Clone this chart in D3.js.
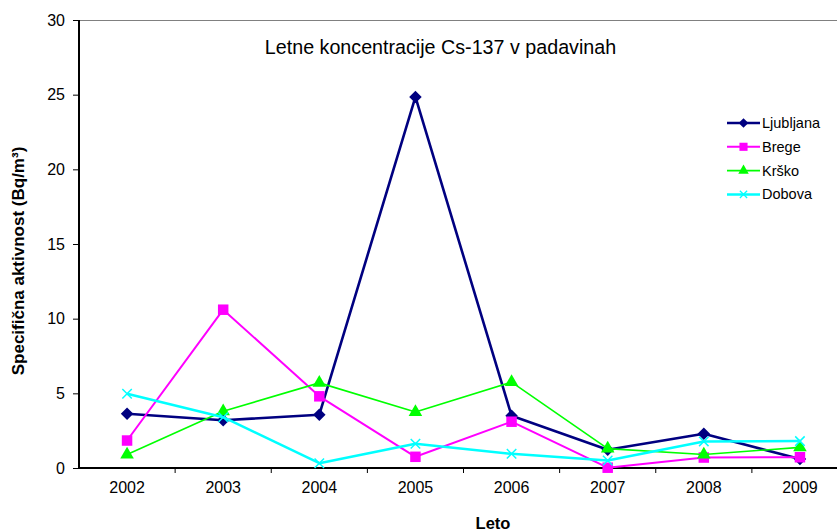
<!DOCTYPE html>
<html>
<head>
<meta charset="utf-8">
<script src="https://cdn.jsdelivr.net/npm/d3@7"></script>
<style>
  body { margin: 0; background: #fff; }
  svg { display: block; font-family: "Liberation Sans", Arial, sans-serif; }
</style>
</head>
<body>
<svg width="837" height="531"></svg>
<script>
const years = ["2002", "2003", "2004", "2005", "2006", "2007", "2008", "2009"];
const ljubljana = [3.63, 3.2, 3.57, 24.85, 3.5, 1.22, 2.29, 0.6];
const brege = [1.84, 10.6, 4.8, 0.75, 3.1, 0.02, 0.7, 0.72];
const krsko = [0.9, 3.8, 5.7, 3.75, 5.75, 1.3, 0.9, 1.38];
const dobova = [4.97, 3.4, 0.32, 1.62, 0.95, 0.5, 1.78, 1.8];
const seriesNames = ["Ljubljana", "Brege", "Krško", "Dobova"];
const yTicks = [0, 5, 10, 15, 20, 25, 30];

const series = [
  { name: seriesNames[0], values: ljubljana, color: "#000080", width: 2.6, symbol: d3.symbolDiamond2, size: 100 },
  { name: seriesNames[1], values: brege, color: "#ff00ff", width: 2, symbol: d3.symbolSquare, size: 110 },
  { name: seriesNames[2], values: krsko, color: "#00ff00", width: 1.6, symbol: d3.symbolTriangle, size: 80 },
  { name: seriesNames[3], values: dobova, color: "#00ffff", width: 2.5, symbol: d3.symbolX, size: 60 }
];

const svg = d3.select("svg");
const margin = { left: 79, top: 20, right: 848, bottom: 468 };

const x = d3.scaleBand().domain(years).range([margin.left, margin.right]).padding(0);
const y = d3.scaleLinear().domain([0, 30]).range([margin.bottom, margin.top]);
const cx = d => x(d) + x.bandwidth() / 2;

// top border of plot area
svg.append("line")
  .attr("x1", margin.left).attr("x2", margin.right)
  .attr("y1", margin.top + 0.5).attr("y2", margin.top + 0.5)
  .attr("stroke", "#808080").attr("stroke-width", 1);

// y axis
const yAxisG = svg.append("g")
  .attr("transform", `translate(${margin.left},0)`)
  .call(d3.axisLeft(y).tickValues(yTicks).tickSize(6).tickPadding(8));
yAxisG.select(".domain").attr("stroke", "#000").attr("stroke-width", 2)
  .attr("d", `M0,${margin.top}V${margin.bottom}`);
yAxisG.selectAll(".tick line").attr("stroke-width", 1);
yAxisG.selectAll(".tick text").style("font-size", "16px").attr("fill", "#000");

// x axis: labels at centres, ticks between categories
const xAxisG = svg.append("g")
  .attr("transform", `translate(0,${margin.bottom})`)
  .call(d3.axisBottom(x).tickSize(0).tickPadding(14));
xAxisG.select(".domain").attr("stroke", "#000").attr("stroke-width", 2)
  .attr("d", `M${margin.left},0H${margin.right}`);
xAxisG.selectAll(".tick text").style("font-size", "16px").attr("fill", "#000");
xAxisG.selectAll("line.sep")
  .data(years.slice(1))
  .enter()
  .append("line")
  .attr("class", "sep")
  .attr("x1", d => x(d)).attr("x2", d => x(d))
  .attr("y1", 0).attr("y2", 5)
  .attr("stroke", "#000");

// series
const line = d3.line().x((v, i) => cx(years[i])).y(v => y(v));
series.forEach(s => {
  const g = svg.append("g");
  g.append("path")
    .attr("d", line(s.values))
    .attr("fill", "none")
    .attr("stroke", s.color)
    .attr("stroke-width", s.width)
    .attr("stroke-linejoin", "round");
  g.selectAll("path.mark")
    .data(s.values)
    .enter()
    .append("path")
    .attr("class", "mark")
    .attr("transform", (v, i) => `translate(${cx(years[i])},${y(v)})`)
    .attr("d", d3.symbol().type(s.symbol).size(s.size))
    .attr("fill", s.symbol === d3.symbolX ? "none" : s.color)
    .attr("stroke", s.color)
    .attr("stroke-width", s.symbol === d3.symbolX ? 1.5 : 0);
});

// legend
const legend = svg.append("g").attr("transform", "translate(727,123)");
series.forEach((s, i) => {
  const row = legend.append("g").attr("transform", `translate(0,${i * 23.8})`);
  row.append("line").attr("x1", 0).attr("x2", 33)
    .attr("stroke", s.color).attr("stroke-width", s.width);
  row.append("path")
    .attr("transform", "translate(16.5,0)")
    .attr("d", d3.symbol().type(s.symbol).size(s.size * 0.6))
    .attr("fill", s.symbol === d3.symbolX ? "none" : s.color)
    .attr("stroke", s.color)
    .attr("stroke-width", s.symbol === d3.symbolX ? 1.3 : 0);
  row.append("text").attr("x", 35).attr("dy", "0.35em")
    .style("font-size", "14.5px").text(s.name);
});

// titles
svg.append("text")
  .attr("x", 440.5).attr("y", 54)
  .attr("text-anchor", "middle")
  .style("font-size", "19.7px")
  .text("Letne koncentracije Cs-137 v padavinah");

svg.append("text")
  .attr("transform", "translate(24,261) rotate(-90)")
  .attr("text-anchor", "middle")
  .style("font-size", "17px")
  .style("font-weight", "bold")
  .text("Specifična aktivnost (Bq/m³)");

svg.append("text")
  .attr("x", 493).attr("y", 529)
  .attr("text-anchor", "middle")
  .style("font-size", "16.5px")
  .style("font-weight", "bold")
  .text("Leto");
</script>
</body>
</html>
